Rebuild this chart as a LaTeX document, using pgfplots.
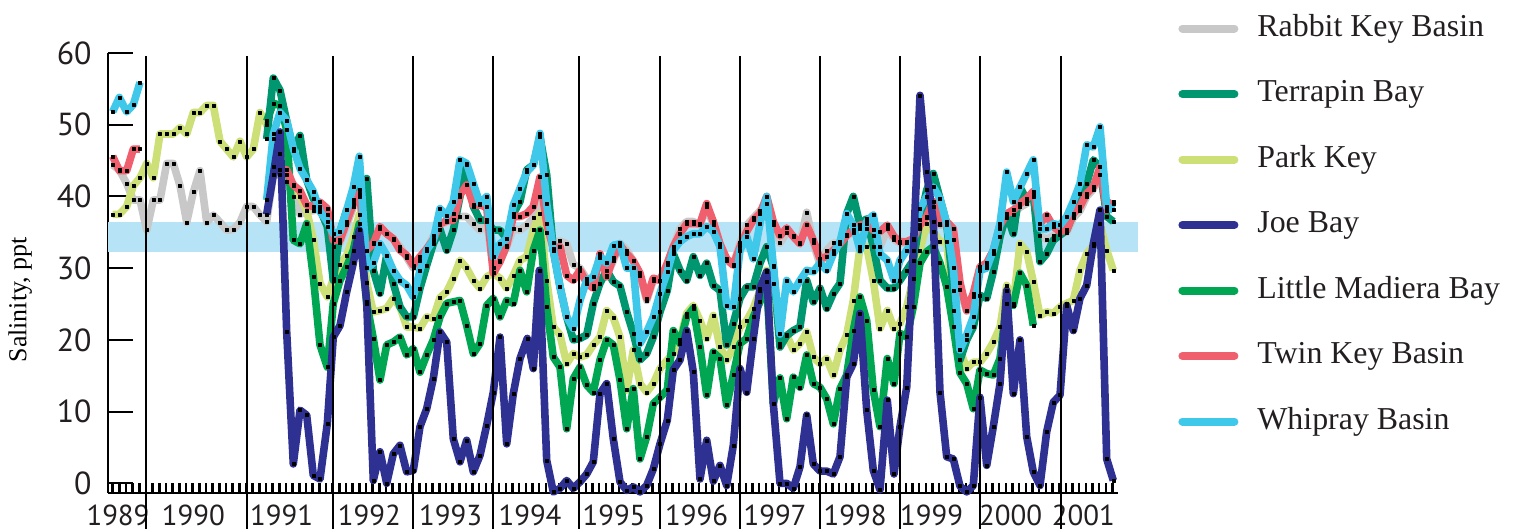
\documentclass[border=0pt]{standalone}
\usepackage{fontspec}
\setmainfont{Liberation Serif}
\newfontfamily\tickfont{PT Sans}
\usepackage{pgfplots}
\usepackage{pgfplotstable}
\pgfplotsset{compat=1.18}

\definecolor{rabbit}{RGB}{200,200,200}
\definecolor{terrapin}{RGB}{0,150,112}
\definecolor{parkkey}{RGB}{205,224,120}
\definecolor{joebay}{RGB}{46,49,146}
\definecolor{littlemad}{RGB}{0,166,81}
\definecolor{twinkey}{RGB}{240,95,110}
\definecolor{whipray}{RGB}{64,200,235}
\definecolor{band}{RGB}{183,227,246}
\definecolor{textdark}{RGB}{35,31,32}

% x = position along the time axis (monthly samples), y = salinity in ppt
\pgfplotstableread{
x y
112.7 44.4
119.3 43.7
126.7 41.8
133.3 39.5
140 39.5
146.7 35.3
153.3 39.5
160 39.5
166.7 44.6
173.3 44.6
180 41.5
186.7 36.4
193.3 40.6
200 43.6
206.7 36.4
213.3 37.4
220 36.4
226.7 35.3
233.3 35.4
240 36.4
246.7 38.6
253.3 38.6
260 37.4
266.7 36.5
273.3 43
280 43
286.7 42
293.3 40
300 37.5
306.7 38
313.3 38
320 38.5
327.3 37.5
333.3 33
340 33.5
346.7 36
353.3 38.5
359.3 40
366.7 32.5
373.3 33.5
380 35.5
386.7 34.8
393.3 34
400 33
406.7 31.5
413.3 30
420 31
426.7 32.5
433.3 34.5
440 36
446.7 36.5
453.3 37.6
460 37.2
466.7 37.2
473.3 36.2
480 35.3
486.7 36.5
493.3 30
500 31
506.7 33
513.3 35.5
520 35.3
526.7 36
533.3 37
540 40
546.7 35
553.3 33.5
560 33.8
566.7 33.4
573.3 30.5
580 30
586.7 28.5
593.3 27.5
600 31.5
606.7 29
613.3 31
620 33.5
626.7 32.5
633.3 31
640 29
646.7 25.5
653.3 28.3
660 28.3
667.3 30.5
673.3 33
680 35.5
686.7 36.5
693.3 36.5
700 36
706.7 38.5
713.3 36
720 33
726.7 31
733.3 30.5
740 33.5
746.7 36
753.3 37
760 38
766.7 39
773.3 36
780 33.5
786.7 35
793.3 34.5
800 33.5
806.7 37.8
813.3 33.5
820 30.5
826.7 32.5
833.3 33.5
840 33.5
846.7 34.5
853.3 35
860 35.5
866.7 35.5
873.3 34.5
880 33
887.3 35.5
894 34
900 33.5
906.7 33.5
913.3 34
920 35.5
926.7 37
933.3 38.5
940 36
946.7 36
953.3 34
960 27
966.7 24
973.3 26
980 30
986.7 30.5
993.3 32
1000 35.5
1006.7 37
1013.3 37.5
1020 38.5
1026.7 39
1033.3 40
1040 34.5
1046.7 34
1053.3 34.5
1060 35
1066.7 35
1073.3 37
1080 38
1086.7 40
1093.3 41
1100 43
1106.7 38
1113.3 39
}\rabbitdata

\pgfplotstableread{
x y
266.7 48
273.3 56.5
280 54.8
286.7 50.5
293.3 46.4
300 48.5
306.7 42.3
313.3 39.7
320 38.2
327.3 35.8
333.3 28.3
340 35.1
346.7 38.1
353.3 39.5
359.3 40.9
366.7 42.5
373.3 29.7
380 26.5
386.7 31.8
393.3 27.9
400 24.6
406.7 23.2
413.3 23.2
420 27.2
426.7 30.4
433.3 33.4
440 35.4
446.7 32.5
453.3 35.3
460 40
466.7 44.4
473.3 38.6
480 36.7
486.7 36.7
493.3 35.3
500 35.3
506.7 34.1
513.3 37.6
520 39.3
526.7 43.7
533.3 44.4
540 48.3
546.7 43
553.3 32.5
560 27.4
566.7 23.2
573.3 20
580 20.2
586.7 20.7
593.3 25.1
600 27.9
606.7 29.7
613.3 28.1
620 27.5
626.7 23.9
633.3 20.9
640 17.2
646.7 18.1
653.3 20.4
660 23.9
667.3 26.9
673.3 32
680 29.7
686.7 28.3
693.3 31.6
700 29
706.7 30.7
713.3 27.6
720 26.9
726.7 19.3
733.3 22.3
740 25.8
746.7 27.4
753.3 27.4
760 30.7
766.7 33
773.3 30.2
780 19
786.7 20.6
793.3 21.3
800 21.8
806.7 28.3
813.3 25.3
820 27.2
826.7 24.4
833.3 26.5
840 27.9
846.7 37.6
853.3 40
860 36
866.7 36.9
873.3 33
880 28.3
887.3 27.2
894 27.2
900 28.3
906.7 29.7
913.3 31.1
920 36.7
926.7 40.9
933.3 43.2
940 39.7
946.7 36.2
953.3 26.9
960 17.2
966.7 20
973.3 21.8
980 26.2
986.7 25.8
993.3 29.5
1000 34.4
1006.7 37.6
1013.3 34.8
1020 41.3
1026.7 39.5
1033.3 40.4
1040 30.9
1046.7 32
1053.3 33.9
1060 34.6
1066.7 35.3
1073.3 37.6
1080 40.4
1086.7 41.8
1093.3 45.1
1100 44.1
1106.7 37.2
1113.3 36.5
}\terrapindata

\pgfplotstableread{
x y
112.7 37.5
119.3 37.5
126.7 38.6
133.3 41.5
140 42.6
146.7 44.6
153.3 42.6
160 48.7
166.7 48.7
173.3 48.7
180 49.6
186.7 48.7
193.3 51.7
200 51.7
206.7 52.7
213.3 52.7
220 47.7
226.7 46.6
233.3 45.5
240 47.7
246.7 45.5
253.3 46.6
260 51.7
266.7 50
273.3 48
280 46
286.7 43
293.3 41.5
300 40
306.7 38
313.3 34
320 27.9
327.3 26
333.3 28.5
340 30.5
346.7 31.8
353.3 34.4
359.3 37.5
366.7 28
373.3 23.9
380 24.1
386.7 24.4
393.3 25.8
400 24.6
406.7 21.8
413.3 21.8
420 21.6
426.7 23.2
433.3 23
440 25.9
446.7 26.7
453.3 28.6
460 31.1
466.7 30
473.3 28.3
480 27.2
486.7 28.8
493.3 29.3
500 28.6
506.7 27.2
513.3 29
520 31.1
526.7 31.6
533.3 35.3
540 37.6
546.7 28.3
553.3 21.8
560 20.7
566.7 16.7
573.3 18.1
580 17.6
586.7 17.9
593.3 19.3
600 20.4
606.7 24.1
613.3 23.1
620 20.4
626.7 13
633.3 18.6
640 13.9
646.7 12.7
653.3 13.9
660 16
667.3 17.2
673.3 18.1
680 20
686.7 23.7
693.3 24.8
700 22.7
706.7 20.2
713.3 23.4
720 19
726.7 17.2
733.3 19
740 21.8
746.7 22.7
753.3 24.4
760 26.9
766.7 29.7
773.3 27.9
780 19.5
786.7 20.7
793.3 18.6
800 19.5
806.7 21.1
813.3 17.6
820 16.7
826.7 17.4
833.3 15.1
840 18.6
846.7 20.7
853.3 25.5
860 33
866.7 33
873.3 28.3
880 21.6
887.3 24.1
894 21.6
900 22.3
906.7 24.6
913.3 28.6
920 32.5
926.7 36.2
933.3 35.1
940 33.7
946.7 33.7
953.3 24.1
960 18.6
966.7 16
973.3 16.9
980 16.9
986.7 18.1
993.3 19.7
1000 21.8
1006.7 27.6
1013.3 25.1
1020 33.4
1026.7 32.3
1033.3 28.1
1040 23.4
1046.7 23.9
1053.3 23.7
1060 24.6
1066.7 25.1
1073.3 25.5
1080 29.7
1086.7 32
1093.3 33.2
1100 36.2
1106.7 32.5
1113.3 29.7
}\parkdata

\pgfplotstableread{
x y
266.7 37.5
273.3 43
280 49
286.7 21.1
293.3 2.7
300 10.2
306.7 9.5
313.3 1.1
320 0.6
327.3 8.3
333.3 20.4
340 22
346.7 26.7
353.3 30.7
359.3 35.3
366.7 25.3
373.3 0.4
380 4.4
386.7 0
393.3 4.1
400 5.3
406.7 1.6
413.3 1.8
420 7.9
426.7 10.4
433.3 14.6
440 21.1
446.7 19.7
453.3 6.2
460 3.0
466.7 6.0
473.3 1.6
480 3.9
486.7 8.1
493.3 12.7
500 20.4
506.7 5.5
513.3 12.5
520 17.4
527.3 20.2
533.3 16
539.3 29.7
546.7 3.2
553.3 -1.2
560 -0.7
566.7 0.4
573.3 -0.7
580 0.2
586.7 1.3
593.3 3.0
600 12.5
606.7 13.9
613.3 6.2
620 0.2
626.7 -1.0
633.3 -0.5
640 -1.2
646.7 -0.3
653.3 2.0
660 5.5
667.3 8.8
673.3 15.8
680 17.2
686.7 21.3
693.3 15.5
700 0.6
706.7 6.0
713.3 0.3
720 2.5
726.7 -0.3
733.3 5.3
740 16.0
746.7 12.7
753.3 20.2
760 27.2
766.7 29.5
773.3 11.1
780 0
786.7 0
793.3 -0.7
800 2.3
806.7 9.5
813.3 2.7
820 1.7
826.7 1.7
833.3 1.3
840 3.7
846.7 14.8
853.3 16.7
860 23.7
866.7 10.2
873.3 1.8
880 -0.9
887.3 11.6
894 1.3
900 7.9
906.7 13.4
913.3 32.5
920 54.1
926.7 43.4
933.3 36.5
940 12.7
946.7 3.7
953.3 3.4
960 -0.4
966.7 -1.2
973.3 -0.3
980 12.0
986.7 2.5
993.3 7.9
1000 13.9
1006.7 26.9
1013.3 12.5
1020 20.0
1026.7 6.5
1033.3 1.6
1040 -0.3
1046.7 7.2
1053.3 11.3
1060 12.3
1066.7 24.8
1073.3 21.3
1080 25.8
1086.7 27.6
1093.3 33.4
1100 38.1
1106.7 3.4
1113.3 0.4
}\joedata

\pgfplotstableread{
x y
266.7 50.5
273.3 53
280 52.7
286.7 49.3
293.3 33.9
300 33.4
306.7 36.2
313.3 28.8
320 19.3
327.3 16.2
333.3 25.1
340 28.3
346.7 30.2
353.3 32.5
359.3 36.2
366.7 25.1
373.3 20.2
380 14.4
386.7 19.3
393.3 19.7
400 20.4
406.7 17.9
413.3 18.8
420 15.5
426.7 17.9
433.3 20
440 23.2
446.7 25.1
453.3 25.3
460 25.5
466.7 22
473.3 18.1
480 19.5
486.7 24.8
493.3 25.8
500 23.2
506.7 25.5
513.3 25.1
520 29.7
526.7 26.7
533.3 32.5
540 35.3
546.7 24.6
553.3 17.6
560 16.2
566.7 7.6
573.3 14.6
580 16.2
586.7 13.7
593.3 12.7
600 17.2
606.7 20
613.3 19.3
620 14.4
626.7 7.6
633.3 13.2
640 3.4
646.7 6.5
653.3 11.1
660 12
667.3 13
673.3 21.3
680 19.5
686.7 23.2
693.3 24.4
700 19
706.7 12.3
713.3 18.3
720 17.4
726.7 10.9
733.3 15.1
740 19.5
746.7 20.2
753.3 23.2
760 25.3
766.7 28.1
773.3 11.1
780 14.7
786.7 9
793.3 14.8
800 13.4
806.7 17.9
813.3 13.9
820 13.4
826.7 11.8
833.3 8.3
840 13.2
846.7 15.1
853.3 21.3
860 26
866.7 22.7
873.3 13
880 7.9
887.3 17.4
894 13.9
900 20.9
906.7 20.4
913.3 24.6
920 30.7
926.7 32.3
933.3 33
940 30.7
946.7 27.4
953.3 21.8
960 15.4
966.7 13.9
973.3 10.4
980 15.8
986.7 15.3
993.3 15.1
1000 17.4
1006.7 25.1
1013.3 24.8
1020 29.3
1026.7 27.6
1033.3 22
}\littlemaddata

\pgfplotstableread{
x y
112.7 45.6
119.3 43.6
126.7 43.6
133.3 46.6
140 46.6
200 nan
273.3 44.2
280 43.7
286.7 43.7
293.3 41.6
300 40.8
306.7 38.8
313.3 38.6
320 39.2
327.3 38.3
333.3 33.9
340 33.9
346.7 36.5
353.3 39.0
359.3 40.4
366.7 32.5
373.3 33.4
380 35.8
386.7 34.8
393.3 34.1
400 32.5
406.7 31.8
413.3 30.4
420 31.6
426.7 32.7
433.3 34
440 36.2
446.7 36.6
453.3 36.7
460 40.2
466.7 41.6
473.3 38.8
480 38.8
486.7 38.5
493.3 29.3
500 30.9
506.7 33.2
513.3 37.2
520 37.2
526.7 37.6
533.3 38.6
540 42.7
546.7 36.2
553.3 32.7
560 33
566.7 29
573.3 28.3
580 29.7
586.7 27.9
593.3 27.2
600 32
606.7 28.8
613.3 31.5
620 33.2
626.7 32
633.3 31
640 29.3
646.7 25.8
653.3 28.6
660 28.3
667.3 30.7
673.3 33
680 34.8
686.7 36.2
693.3 36.2
700 36.2
706.7 39
713.3 36.5
720 33.4
726.7 31.3
733.3 30.4
740 33
746.7 35.1
753.3 36.7
760 37.6
766.7 40
773.3 36.5
780 34.5
786.7 35.6
793.3 34.4
800 33.4
806.7 36
813.3 33.9
820 31.3
826.7 31.6
833.3 32.5
840 33.4
846.7 34.6
853.3 35.3
860 36
866.7 36.2
873.3 35.3
880 35.1
887.3 36
894 34.4
900 33.7
906.7 33.7
913.3 34.1
920 36
926.7 37.2
933.3 39.3
940 36.2
946.7 36.5
953.3 35.5
960 28
966.7 24.1
973.3 26.5
980 30.2
986.7 30.7
993.3 32.5
1000 36
1006.7 37.6
1013.3 38.1
1020 39
1026.7 39.7
1033.3 40.7
1040 36.2
1046.7 37.4
1053.3 35.8
1060 35.1
1066.7 35.3
1073.3 37.6
1080 38.6
1086.7 40.4
1093.3 41.3
1100 44.1
1106.7 38.1
1113.3 39.3
}\twindata

\pgfplotstableread{
x y
112.7 51.8
119.3 53.8
126.7 51.8
133.3 52.8
140 55.9
200 nan
266.7 39.5
273.3 48.7
280 51.7
286.7 50.6
293.3 46.7
300 43.9
306.7 42.3
313.3 40.7
320 37.9
327.3 36.5
333.3 34.8
340 35.1
346.7 38.1
353.3 41.3
359.3 45.6
366.7 30
373.3 30.7
380 33.4
386.7 31.8
393.3 29.7
400 28.3
406.7 27.6
413.3 26
420 29.7
426.7 32.5
433.3 33.9
440 38.3
446.7 37.3
453.3 39.3
460 45.1
466.7 44.6
473.3 41.8
480 39.0
486.7 40.0
493.3 31.6
500 33.4
506.7 34.1
513.3 38.8
520 41.1
526.7 43.4
533.3 44.4
540 48.8
546.7 39.0
553.3 32.5
560 27.4
566.7 23.2
573.3 21.6
580 25.5
586.7 28.3
593.3 28.8
600 31.6
606.7 30.7
613.3 33.2
620 33.4
626.7 30
633.3 30
640 19.5
646.7 21.1
653.3 23.2
660 26.5
667.3 29.5
673.3 32.5
680 33.7
686.7 34.4
693.3 34.8
700 34.8
706.7 35.8
713.3 35.1
720 33.0
726.7 24.8
733.3 24.6
740 32.5
746.7 34.4
753.3 31.3
760 36.2
766.7 40.0
773.3 30.4
780 20.8
786.7 28.3
793.3 26.7
800 28.3
806.7 29.7
813.3 29.5
820 30.7
826.7 29.7
833.3 32
840 33.7
846.7 37.6
853.3 36
860 32.5
866.7 36.5
873.3 37.4
880 32
887.3 31.1
894 28.3
900 31.1
906.7 32.5
913.3 33.9
920 38.3
926.7 40.0
933.3 41.3
940 39.7
946.7 36.2
953.3 30
960 18.6
966.7 20.7
973.3 23.2
980 29.7
986.7 30
993.3 32.5
1000 36.2
1006.7 43.4
1013.3 39.3
1020 41.3
1026.7 43.2
1033.3 45.1
1040 35.5
1046.7 35.5
1053.3 36.2
1060 36
1066.7 37.2
1073.3 39.3
1080 41.8
1086.7 47.2
1093.3 46.9
1100 49.7
1106.7 38.6
1113.3 38.1
}\whipdata

\begin{document}
\begin{tikzpicture}
\useasboundingbox (-54bp,-19bp) rectangle (705.5bp,246.5bp);
\begin{axis}[
    at={(0,0)}, anchor=south west,
    scale only axis,
    width=505bp, height=220bp,
    xmin=108, xmax=1118,
    ymin=-1.35, ymax=60,
    clip=false,
    axis x line=bottom, axis y line=left,
    axis line style={-, line width=1bp, black},
    tick align=inside,
    major tick length=12.5bp,
    minor tick length=5bp,
    ytick={0,10,...,60},
    ytick style={line width=1bp, black},
    xtick={118,193.3,281.7,369.3,450.7,530,614,696.7,775,855,931.7,1010.7,1083.3},
    xticklabels={1989,1990,1991,1992,1993,1994,1995,1996,1997,1998,1999,2000,2001},
    every major x tick/.append style={draw=none},
    minor xtick={112.667,119.333,...,1118},
    every minor x tick/.append style={line width=1.2bp, black},
    /pgf/number format/assume math mode=true,
    yticklabel style={font=\tickfont\fontsize{16}{16}\selectfont, text=textdark, inner sep=0pt, xshift=-8bp},
    xticklabel style={font=\tickfont\fontsize{14.5}{14.5}\selectfont, text=textdark, inner sep=0pt, anchor=north, yshift=-6bp},
    ylabel={Salinity, ppt},
    ylabel style={font=\fontsize{13}{13}\selectfont, at={(axis description cs:-0.087,0.439)}, anchor=center},
    unbounded coords=jump,
    every axis plot/.append style={line width=3.8bp, line join=round,
        mark=square*, mark size=0.75bp,
        mark options={fill=black, draw=black, line width=0.2bp}},
    legend image code/.code={\draw[#1, line width=4bp, line cap=round] (2bp,0bp) -- (28bp,0bp);},
    legend style={at={(axis description cs:1.0594,1.0918)}, anchor=north west,
        draw=none, fill=none, inner sep=0pt,
        font=\fontsize{16}{19}\selectfont, text=textdark,
        row sep=17.25bp, column sep=9.5bp,
        nodes={inner sep=0pt, text height=11.5bp, text depth=4bp}},
    legend cell align=left,
]
\fill[band] (axis cs:108.5,32.3) rectangle (axis cs:1138,36.5);

\addlegendimage{rabbit}
\addlegendimage{terrapin}
\addlegendimage{parkkey}
\addlegendimage{joebay}
\addlegendimage{littlemad}
\addlegendimage{twinkey}
\addlegendimage{whipray}
\legend{Rabbit Key Basin, Terrapin Bay, Park Key, Joe Bay, Little Madiera Bay, Twin Key Basin, Whipray Basin}

\addplot[rabbit, forget plot] table {\rabbitdata};
\addplot[parkkey, forget plot] table {\parkdata};
\addplot[littlemad, forget plot] table {\littlemaddata};
\addplot[terrapin, forget plot] table {\terrapindata};
\addplot[twinkey, forget plot] table {\twindata};
\addplot[whipray, forget plot] table {\whipdata};
\addplot[joebay, forget plot] table {\joedata};

\pgfplotsinvokeforeach{146.5,247,333,413,493,579,660,740,820,900,980,1060.5}{
  \draw[line width=1bp, black] (axis cs:#1,59.6) -- (axis cs:#1,-6.3);
}
\end{axis}
\end{tikzpicture}
\end{document}
